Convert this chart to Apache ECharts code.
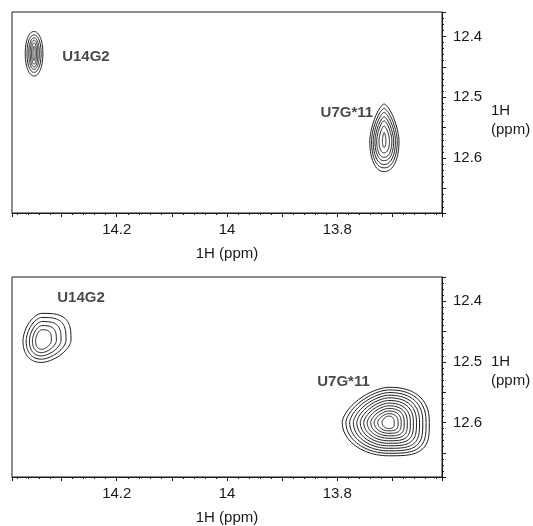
<!DOCTYPE html>
<html>
<head>
<meta charset="utf-8">
<script src="https://cdn.jsdelivr.net/npm/echarts@6/dist/echarts.min.js"></script>
<style>
html,body{margin:0;padding:0;background:#fff}
#chart{width:533px;height:526px}
</style>
</head>
<body>
<div id="chart"></div>
<script>
// axis ranges (ppm), both axes reversed
var xRange = [13.61, 14.39];
var yRange = [12.36, 12.69];
var xTickLabels = [14.2, 14.0, 13.8];
var yTickLabels = [12.4, 12.5, 12.6];

var peakNames = ['U14G2', 'U7G*11'];

// peak centres [x ppm, y ppm]
var topCenters = [[14.350, 12.428], [13.715, 12.571]];
var bottomCenters = [[14.336, 12.465], [13.707, 12.600]];

// outer contour half widths [left, right, up, down] in ppm
var topWidths = [[0.016, 0.016, 0.036, 0.037], [0.026, 0.027, 0.060, 0.051]];
var bottomWidths = [[0.034, 0.053, 0.045, 0.036], [0.084, 0.074, 0.058, 0.055]];

// contour levels, outer -> inner, as [fx, fy] of the outer contour
var topLevels = [
  [[1, 1], [0.8, 0.84], [0.6, 0.71], [0.44, 0.6], [0.28, 0.48], [0.12, 0.32]],
  [[1, 1], [0.88, 0.88], [0.76, 0.77], [0.64, 0.65], [0.52, 0.54], [0.36, 0.4], [0.12, 0.22]]
];
var bottomLevels = [
  [[1, 1], [0.83, 0.85], [0.66, 0.7], [0.5, 0.55], [0.33, 0.4]],
  [[1, 1], [0.92, 0.925], [0.84, 0.85], [0.76, 0.775], [0.685, 0.7], [0.61, 0.625],
   [0.535, 0.55], [0.46, 0.475], [0.385, 0.4], [0.31, 0.325], [0.235, 0.25], [0.14, 0.18]]
];

// label anchors [x ppm, y ppm]
var topLabels = [[14.299, 12.433], [13.735, 12.526]];
var bottomLabels = [[14.308, 12.395], [13.741, 12.533]];

// contour shape per peak: superellipse exponent per quadrant [UL, UR, LR, LL]
var topShapes = [[2.1, 2.1, 2.1, 2.1], [1.5, 1.5, 2.2, 2.2]];
var bottomShapes = [[1.7, 3.2, 1.6, 2.3], [1.6, 2.4, 3.4, 2.0]];

var FONT = "'Liberation Sans', Arial, sans-serif";
var INK = '#1a1a1a';

function contourData(centers, widths, levels, shapes) {
  var out = [];
  centers.forEach(function (c, i) {
    levels[i].forEach(function (lv) {
      var w = widths[i], s = shapes[i];
      out.push([c[0], c[1], w[0], w[1], w[2], w[3], lv[0], lv[1], s[0], s[1], s[2], s[3]]);
    });
  });
  return out;
}

function renderContour(params, api) {
  var cx = api.value(0), cy = api.value(1);
  var wl = api.value(2), wr = api.value(3), wu = api.value(4), wd = api.value(5);
  var fx = api.value(6), fy = api.value(7);
  var n = [api.value(8), api.value(9), api.value(10), api.value(11)];
  var pts = [];
  var steps = 96;
  for (var k = 0; k < steps; k++) {
    var t = k / steps * Math.PI * 2;
    var ux = Math.cos(t), uy = Math.sin(t);
    var q = uy < 0 ? (ux < 0 ? 0 : 1) : (ux >= 0 ? 2 : 3);
    var e = 2 / n[q];
    var gx = (ux < 0 ? -1 : 1) * Math.pow(Math.abs(ux), e) * (ux < 0 ? wl : wr) * fx;
    var gy = (uy < 0 ? -1 : 1) * Math.pow(Math.abs(uy), e) * (uy < 0 ? wu : wd) * fy;
    pts.push(api.coord([cx - gx, cy + gy]));
  }
  return {
    type: 'polygon',
    shape: { points: pts },
    style: { fill: 'none', stroke: INK, lineWidth: 1 }
  };
}

function isLabel(list, v) {
  return list.some(function (t) { return Math.abs(t - v) < 1e-6; });
}

function xAxes(gridIndex, nameGap) {
  return [{
    type: 'value', gridIndex: gridIndex, min: xRange[0], max: xRange[1], inverse: true,
    position: 'bottom', minInterval: 0.1, maxInterval: 0.1,
    axisLine: { lineStyle: { color: INK, width: 1 } },
    axisTick: { length: 4, lineStyle: { color: INK } },
    axisLabel: {
      margin: 9, color: INK, fontSize: 15, fontFamily: FONT,
      formatter: function (v) { return isLabel(xTickLabels, v) ? String(Number(v.toFixed(2))) : ''; }
    },
    splitLine: { show: false },
    name: '1H (ppm)', nameLocation: 'middle', nameGap: nameGap,
    nameTextStyle: { color: INK, fontSize: 15, fontFamily: FONT }
  }, {
    type: 'value', gridIndex: gridIndex, min: xRange[0], max: xRange[1], inverse: true,
    position: 'bottom', minInterval: 0.02, maxInterval: 0.02,
    axisLine: { show: false },
    axisTick: { length: 2, lineStyle: { color: INK } },
    axisLabel: { show: false },
    splitLine: { show: false }
  }];
}

function yAxes(gridIndex) {
  return [{
    type: 'value', gridIndex: gridIndex, min: yRange[0], max: yRange[1], inverse: true,
    position: 'right', minInterval: 0.05, maxInterval: 0.05,
    axisLine: { lineStyle: { color: INK, width: 1 } },
    axisTick: { length: 4, lineStyle: { color: INK } },
    axisLabel: {
      margin: 11, color: INK, fontSize: 15, fontFamily: FONT,
      formatter: function (v) { return isLabel(yTickLabels, v) ? String(Number(v.toFixed(2))) : ''; }
    },
    splitLine: { show: false }
  }, {
    type: 'value', gridIndex: gridIndex, min: yRange[0], max: yRange[1], inverse: true,
    position: 'right', minInterval: 0.01, maxInterval: 0.01,
    axisLine: { show: false },
    axisTick: { length: 2, lineStyle: { color: INK } },
    axisLabel: { show: false },
    splitLine: { show: false }
  }];
}

function yName(top) {
  return {
    type: 'text', left: 491, top: top, silent: true,
    style: { text: '1H\n(ppm)', fill: INK, font: '15px ' + FONT, lineHeight: 19 }
  };
}

function labelSeries(anchors, xi, yi) {
  return {
    type: 'scatter', xAxisIndex: xi, yAxisIndex: yi, symbolSize: 0, silent: true,
    data: anchors.map(function (a, i) {
      return {
        name: peakNames[i], value: a,
        label: { position: i === 0 ? 'right' : 'left' }
      };
    }),
    label: {
      show: true, distance: 0, formatter: '{b}',
      color: INK, fontSize: 15, fontWeight: 'bold', fontFamily: FONT
    }
  };
}

var chart = echarts.init(document.getElementById('chart'), null, { renderer: 'canvas' });
chart.setOption({
  animation: false,
  backgroundColor: '#fff',
  textStyle: { fontFamily: FONT },
  grid: [
    { left: 12, top: 12, width: 430, height: 201, show: true, borderColor: INK, borderWidth: 1 },
    { left: 12, top: 277, width: 430, height: 203, show: true, borderColor: INK, borderWidth: 1 }
  ],
  xAxis: xAxes(0, 33).concat(xAxes(1, 33)),
  yAxis: yAxes(0).concat(yAxes(1)),
  graphic: [yName(101), yName(352)],
  series: [
    {
      type: 'custom', xAxisIndex: 0, yAxisIndex: 0, silent: true,
      renderItem: renderContour,
      data: contourData(topCenters, topWidths, topLevels, topShapes)
    },
    {
      type: 'custom', xAxisIndex: 2, yAxisIndex: 2, silent: true,
      renderItem: renderContour,
      data: contourData(bottomCenters, bottomWidths, bottomLevels, bottomShapes)
    },
    labelSeries(topLabels, 0, 0),
    labelSeries(bottomLabels, 2, 2)
  ]
});
</script>
</body>
</html>
